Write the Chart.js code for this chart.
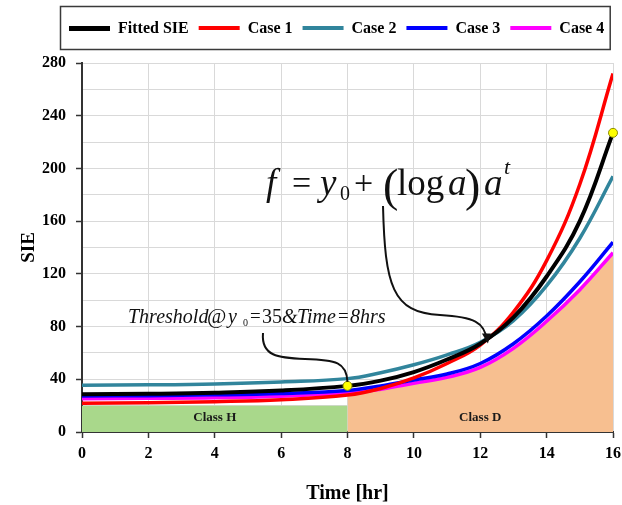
<!DOCTYPE html>
<html>
<head>
<meta charset="utf-8">
<script src="https://cdn.jsdelivr.net/npm/chart.js@4.4.1/dist/chart.umd.min.js"></script>
<style>
  html, body { margin: 0; padding: 0; background: #ffffff; }
  #wrap { width: 622px; height: 505px; position: relative; }
</style>
</head>
<body>
<div id="wrap"><canvas id="c" width="622" height="505"></canvas></div>
<script>
// Sample times [hr] and SIE values for the fitted curve and the four cases
const times      = [0, 2, 4, 6, 8, 9, 10, 11, 12, 13, 14, 15, 16];
const fittedSIE  = [28.6, 29.0, 29.8, 31.5, 35.0, 39.0, 45.5, 55.0, 67.0, 87.0, 118.0, 160.0, 227.0];
const case1      = [21.8, 22.2, 23.0, 24.5, 28.0, 33.0, 41.0, 52.0, 66.0, 91.0, 130.0, 188.0, 272.0];
const case2      = [35.5, 35.8, 36.5, 38.0, 40.5, 45.0, 51.0, 58.5, 68.0, 84.5, 111.0, 147.0, 194.0];
const case3      = [27.3, 27.6, 28.2, 29.3, 31.5, 35.0, 39.5, 44.0, 52.0, 67.0, 88.0, 114.0, 144.0];
const case4      = [25.3, 25.6, 26.0, 27.2, 29.5, 32.5, 37.0, 41.5, 49.0, 63.5, 84.0, 108.0, 136.0];

const seriesLabels = ['Fitted SIE', 'Case 1', 'Case 2', 'Case 3', 'Case 4'];
const seriesValues = [fittedSIE, case1, case2, case3, case4];
const seriesColors = ['#000000', '#ff0000', '#31859c', '#0000ff', '#ff00ff'];

// Class regions: H up to the threshold time, D afterwards (bounded by Case 4)
const classHTimes  = [0, 8];
const classHLevel  = [20, 20];
const classDStart  = 8;

// Threshold point on the fitted curve
const thresholdTime = 8;
const thresholdSIE  = 35;

// Axis ranges and tick spacing
const xRange = [0, 16], xStep = 2;
const yRange = [0, 280], yStep = 20, yLabelStep = 40;

const SERIF = '"Liberation Serif", "Times New Roman", serif';

const toXY = (ts, vs) => ts.map((t, i) => ({ x: t, y: vs[i] }));

const curveSets = seriesLabels.map((label, i) => ({
  label,
  data: toXY(times, seriesValues[i]),
  borderColor: seriesColors[i],
  backgroundColor: seriesColors[i],
  borderWidth: i === 0 ? 4 : 3.5,
  pointRadius: 0,
  tension: 0.4,
  fill: false,
  order: i + 1
}));

const classDTimes = times.filter(t => t >= classDStart);
const classDLevel = case4.filter((v, i) => times[i] >= classDStart);

const datasets = [
  {
    label: 'Threshold',
    type: 'scatter',
    data: [{ x: thresholdTime, y: thresholdSIE }, { x: times[times.length - 1], y: fittedSIE[fittedSIE.length - 1] }],
    pointRadius: 4.5,
    pointBackgroundColor: '#ffff00',
    pointBorderColor: '#8c8c00',
    pointBorderWidth: 1,
    showLine: false,
    clip: false,
    order: 0
  },
  ...curveSets,
  {
    label: 'Class H',
    data: toXY(classHTimes, classHLevel),
    borderWidth: 0,
    pointRadius: 0,
    backgroundColor: '#a9d88b',
    fill: 'origin',
    order: 20
  },
  {
    label: 'Class D',
    data: toXY(classDTimes, classDLevel),
    borderWidth: 0,
    pointRadius: 0,
    backgroundColor: '#f7bf90',
    tension: 0.4,
    fill: 'origin',
    order: 21
  }
];

// Boxed legend across the top of the figure
const boxedLegend = {
  id: 'boxedLegend',
  afterDraw(chart) {
    const ctx = chart.ctx;
    ctx.save();
    ctx.font = 'bold 16px ' + SERIF;
    ctx.textBaseline = 'middle';
    ctx.textAlign = 'left';
    const y = 28;
    let x = 69;
    seriesLabels.forEach((lab, i) => {
      ctx.fillStyle = seriesColors[i];
      ctx.fillRect(x, y - 2, 41, i === 0 ? 5 : 4);
      x += 49;
      ctx.fillStyle = '#000';
      ctx.fillText(lab, x, y + 1);
      x += ctx.measureText(lab).width + 10;
    });
    ctx.strokeStyle = '#3a3a3a';
    ctx.lineWidth = 1.5;
    ctx.strokeRect(60.5, 6.5, x - 4 - 60.5, 43);
    ctx.restore();
  }
};

// Class labels inside the shaded regions
const classLabels = {
  id: 'classLabels',
  afterDatasetsDraw(chart) {
    const { ctx, scales: { x, y } } = chart;
    ctx.save();
    ctx.font = 'bold 13px ' + SERIF;
    ctx.fillStyle = '#1a1a1a';
    ctx.textAlign = 'center';
    ctx.textBaseline = 'middle';
    const yy = y.getPixelForValue(0) - 14;
    ctx.fillText('Class H', (x.getPixelForValue(classHTimes[0]) + x.getPixelForValue(classHTimes[1])) / 2, yy);
    ctx.fillText('Class D', (x.getPixelForValue(classDStart) + x.getPixelForValue(xRange[1])) / 2, yy);
    ctx.restore();
  }
};

// Model equation and threshold note with their leader lines
const notes = {
  id: 'notes',
  afterDraw(chart) {
    const { ctx, scales: { x, y } } = chart;
    ctx.save();
    ctx.fillStyle = '#111';
    ctx.textBaseline = 'alphabetic';
    ctx.textAlign = 'left';
    const it = s => 'italic ' + s + 'px ' + SERIF;
    const rm = s => s + 'px ' + SERIF;
    const put = (txt, font, px, py) => { ctx.font = font; ctx.fillText(txt, px, py); };

    // f = y0 + (log a) a^t
    const b = 195;
    put('f', it(37), 266, b);
    put('=', rm(34), 292, b - 1);
    put('y', it(37), 320, b);
    put('0', rm(20), 340, b + 5);
    put('+', rm(34), 354, b - 1);
    put('(', rm(46), 383, b + 6);
    put('log', rm(37), 397, b);
    put('a', it(37), 448, b);
    put(')', rm(46), 465, b + 6);
    put('a', it(37), 484, b);
    put('t', it(22), 504, b - 21);

    // Threshold@y0 = 35 & Time = 8hrs
    const tb = 323;
    put('Threshold', it(20), 128, tb);
    put('@', rm(21), 207, tb);
    put('y', it(20), 228, tb);
    put('0', rm(10), 243, tb + 3);
    put('=', rm(19), 250, tb - 1);
    put(String(thresholdSIE), rm(20), 262, tb);
    put('&', it(20), 282, tb);
    put('Time', it(20), 297, tb);
    put('=', rm(19), 338, tb - 1);
    put(thresholdTime + 'hrs', it(20), 350, tb);

    ctx.strokeStyle = '#111';
    ctx.lineWidth = 2;

    // leader from equation to the crossing of the curves
    const ex = x.getPixelForValue(12.2), ey = y.getPixelForValue(68);
    ctx.beginPath();
    ctx.moveTo(383, 206);
    ctx.bezierCurveTo(385, 285, 392, 313, 440, 315);
    ctx.bezierCurveTo(474, 317, ex - 2, 322, ex, ey - 2);
    ctx.stroke();
    ctx.beginPath();
    ctx.moveTo(ex - 5, ey - 9);
    ctx.lineTo(ex + 1, ey + 1);
    ctx.lineTo(ex + 4, ey - 9);
    ctx.closePath();
    ctx.fillStyle = '#111';
    ctx.fill();

    // leader from threshold note to the threshold point
    const tx = x.getPixelForValue(thresholdTime), ty = y.getPixelForValue(thresholdSIE);
    ctx.beginPath();
    ctx.moveTo(263, 333);
    ctx.bezierCurveTo(261, 356, 278, 358, 305, 359);
    ctx.bezierCurveTo(336, 360, tx - 1, 362, tx, ty - 4);
    ctx.stroke();
    ctx.restore();
  }
};

const tickFont = { family: SERIF, weight: 'bold', size: 16 };

new Chart(document.getElementById('c'), {
  type: 'line',
  data: { datasets },
  plugins: [classLabels, boxedLegend, notes],
  options: {
    responsive: false,
    devicePixelRatio: 1,
    animation: false,
    layout: { padding: { top: 63, right: 9, left: 0, bottom: 0 } },
    plugins: {
      legend: { display: false },
      tooltip: { enabled: false },
      title: { display: false }
    },
    scales: {
      x: {
        type: 'linear',
        min: xRange[0],
        max: xRange[1],
        ticks: { stepSize: xStep, font: tickFont, color: '#000', padding: 6 },
        grid: { color: '#d9d9d9', lineWidth: 1, tickLength: 6, tickColor: '#333', tickWidth: 1.5 },
        border: { color: '#333', width: 2 },
        title: {
          display: true, text: 'Time [hr]', color: '#000',
          font: { family: SERIF, weight: 'bold', size: 20 },
          padding: { top: 0, bottom: -1 }
        },
        afterFit(s) { s.height = 73; s.paddingLeft = 0; s.paddingRight = 0; }
      },
      y: {
        min: yRange[0],
        max: yRange[1],
        ticks: {
          stepSize: yStep, font: tickFont, color: '#000', padding: 10,
          callback: v => (v % yLabelStep === 0 ? v : '')
        },
        grid: {
          color: '#d9d9d9', lineWidth: 1, tickLength: 6, tickWidth: 1.5,
          tickColor: c => (c.tick && c.tick.value % yLabelStep === 0 ? '#333' : 'rgba(0,0,0,0)')
        },
        border: { color: '#333', width: 2 },
        title: {
          display: true, text: 'SIE', color: '#000',
          font: { family: SERIF, weight: 'bold', size: 19 },
          padding: { top: 18, bottom: 0 }
        },
        afterFit(s) { s.width = 82; s.paddingTop = 0; s.paddingBottom = 0; }
      }
    }
  }
});
</script>
</body>
</html>
